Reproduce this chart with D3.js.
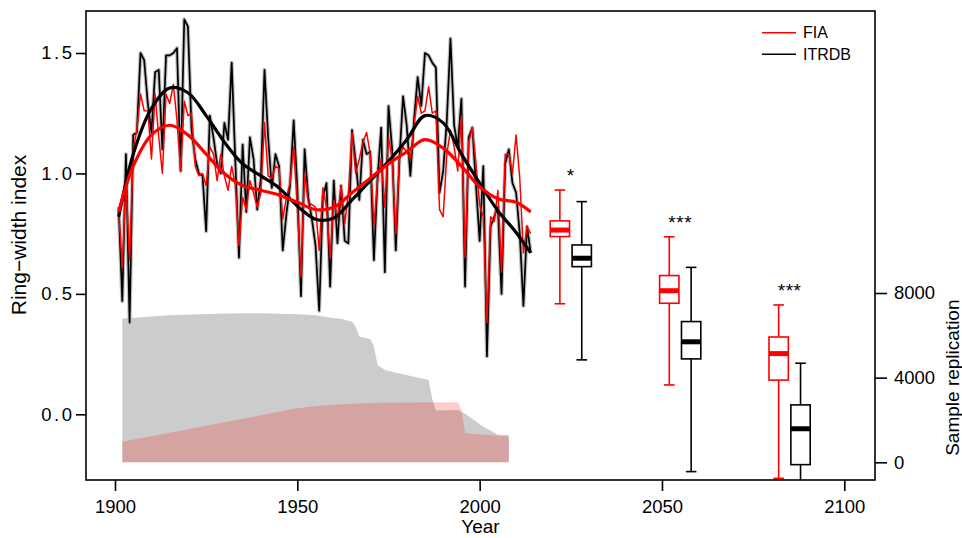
<!DOCTYPE html>
<html>
<head>
<meta charset="utf-8">
<script src="https://cdn.jsdelivr.net/npm/d3@7"></script>
<style>
  body { margin: 0; background: #fff; }
  svg { display: block; font-family: "Liberation Sans", Arial, Helvetica, sans-serif; }
</style>
</head>
<body>
<div id="chart"></div>
<script>
// annual ring-width index, 1901-2014
const years = d3.range(1901, 2015);
const fia = [
  0.85, 0.61, 0.97, 0.64, 1.10, 1.18, 1.33, 1.26, 1.26, 1.06,
  1.33, 1.15, 1.00, 1.33, 1.29, 1.37, 1.22, 1.01, 1.30, 1.24,
  1.25, 1.03, 0.99, 1.00, 0.95, 1.11, 1.08, 0.97, 1.08, 0.99,
  0.93, 1.03, 0.95, 0.70, 0.90, 0.85, 0.97, 0.92, 0.86, 0.92,
  1.21, 0.99, 0.98, 1.03, 1.02, 0.81, 0.90, 0.96, 1.11, 0.86,
  0.57, 1.00, 0.88, 0.87, 0.86, 0.68, 0.94, 0.86, 0.65, 0.89,
  0.81, 0.95, 0.79, 0.92, 1.17, 1.00, 1.06, 1.13, 1.17, 1.08,
  0.78, 0.97, 1.06, 0.86, 1.15, 1.06, 0.75, 1.06, 1.11, 1.09,
  1.06, 1.20, 1.32, 1.25, 1.26, 1.36, 1.25, 1.26, 0.85, 0.82,
  1.08, 1.18, 1.11, 1.01, 1.24, 0.65, 1.13, 1.19, 1.04, 0.87,
  0.82, 0.38, 0.82, 0.80, 0.93, 0.59, 1.08, 1.08, 1.00, 1.16,
  0.98, 0.67, 0.78, 0.75
];
const itrdb = [
  0.86, 0.47, 1.08, 0.38, 1.16, 1.17, 1.50, 1.47, 1.29, 1.17,
  1.42, 1.43, 1.10, 1.49, 1.49, 1.50, 1.52, 1.01, 1.64, 1.61,
  1.18, 1.06, 1.00, 0.99, 0.76, 1.24, 1.15, 1.04, 1.00, 1.21,
  1.14, 1.46, 1.05, 0.65, 1.12, 0.84, 1.15, 1.06, 0.85, 0.98,
  1.43, 1.15, 0.94, 1.08, 1.03, 0.68, 0.83, 0.95, 1.22, 0.94,
  0.49, 1.10, 0.90, 0.81, 0.70, 0.43, 0.90, 0.96, 0.53, 0.97,
  0.71, 0.95, 0.72, 0.71, 1.18, 1.05, 0.89, 1.14, 1.08, 1.09,
  0.64, 0.98, 1.19, 0.59, 1.28, 1.10, 0.68, 1.06, 1.32, 1.20,
  0.99, 1.22, 1.40, 1.28, 1.50, 1.49, 1.46, 1.44, 0.92, 1.01,
  1.22, 1.56, 1.20, 1.11, 1.31, 0.53, 1.15, 1.19, 0.95, 0.72,
  1.03, 0.24, 0.78, 0.82, 0.86, 0.50, 1.04, 1.10, 0.96, 0.92,
  0.75, 0.45, 0.78, 0.67
];

// smoothed curves (spline)
const smoothYears = [1901, 1905, 1910, 1915, 1920, 1925, 1930, 1935, 1940, 1945, 1950, 1955,
  1960, 1965, 1970, 1975, 1980, 1985, 1990, 1995, 2000, 2005, 2010, 2014];
const fiaSmooth = [0.84, 1.03, 1.16, 1.20, 1.16, 1.08, 1.00, 0.95, 0.93, 0.91, 0.88, 0.85,
  0.86, 0.92, 0.98, 1.04, 1.09, 1.14, 1.105, 1.03, 0.945, 0.895, 0.88, 0.84];
const itrdbSmooth = [0.82, 1.08, 1.27, 1.355, 1.335, 1.24, 1.13, 1.04, 0.99, 0.94, 0.865, 0.81,
  0.815, 0.89, 0.97, 1.05, 1.14, 1.24, 1.21, 1.08, 0.96, 0.845, 0.755, 0.67];

// sample replication (right axis)
const repItrdbYears = [1902, 1915, 1930, 1940, 1950, 1955, 1959, 1962, 1965, 1966, 1967, 1970, 1971,
  1972, 1974, 1978, 1983, 1986, 1987, 1988, 1994, 1996, 2001, 2003, 2005, 2008];
const repItrdb = [6800, 6950, 7030, 7040, 7000, 6950, 6830, 6780, 6640, 6400, 5950, 5820, 5500,
  4600, 4360, 4200, 4010, 3890, 3000, 2450, 2470, 2300, 1680, 1500, 1300, 1290];
const repFiaYears = [1902, 1950, 1955, 1960, 1970, 1980, 1994, 1995, 1996, 2000, 2008];
const repFia = [970, 2550, 2650, 2720, 2800, 2830, 2834, 2470, 1370, 1320, 1210];

// projected boxplots: [lower whisker, q1, median, q3, upper whisker]
const boxPeriods = [2025, 2055, 2085];
const boxFia = [
  [0.459, 0.738, 0.765, 0.803, 0.931],
  [0.122, 0.461, 0.513, 0.576, 0.737],
  [-0.266, 0.142, 0.252, 0.321, 0.454]
];
const boxItrdb = [
  [0.226, 0.613, 0.648, 0.703, 0.883],
  [-0.238, 0.230, 0.301, 0.385, 0.610],
  [-0.40, -0.209, -0.060, 0.039, 0.212]
];
const signif = ["*", "***", "***"];

const xTicks = [1900, 1950, 2000, 2050, 2100];
const yTicks = [0, 0.5, 1.0, 1.5];
const repTicks = [0, 4000, 8000];

const W = 962, H = 538;
const plot = { left: 86, top: 11, right: 875, bottom: 480 };
const font = "'Liberation Sans', Arial, Helvetica, sans-serif";

const svg = d3.select("#chart").append("svg")
  .attr("width", W)
  .attr("height", H);

const x = d3.scaleLinear().domain([1900, 2100]).range([115, 844.3]);
const y = d3.scaleLinear().domain([0, 1.5]).range([414.3, 53]);
const yRep = d3.scaleLinear().domain([0, 8000]).range([462.3, 293]);

svg.append("clipPath").attr("id", "clip")
  .append("rect")
  .attr("x", plot.left).attr("y", plot.top)
  .attr("width", plot.right - plot.left)
  .attr("height", plot.bottom - plot.top);

const g = svg.append("g").attr("clip-path", "url(#clip)");

// replication areas
const repArea = d3.area()
  .x(d => x(d[0]))
  .y0(yRep(0))
  .y1(d => yRep(d[1]));

g.append("path")
  .attr("d", repArea(d3.zip(repItrdbYears, repItrdb)))
  .attr("fill", "#cccccc");

g.append("path")
  .attr("d", repArea(d3.zip(repFiaYears, repFia)))
  .attr("fill", "rgba(255,0,0,0.2)");

// annual series
const line = d3.line()
  .x(d => x(d[0]))
  .y(d => y(d[1]));

g.append("path")
  .attr("d", line(d3.zip(years, itrdb)))
  .attr("fill", "none")
  .attr("stroke", "#c0c0c0")
  .attr("stroke-width", 4)
  .attr("stroke-linejoin", "round");

g.append("path")
  .attr("d", line(d3.zip(years, itrdb)))
  .attr("fill", "none")
  .attr("stroke", "black")
  .attr("stroke-width", 1.7)
  .attr("stroke-linejoin", "round");

g.append("path")
  .attr("d", line(d3.zip(years, fia)))
  .attr("fill", "none")
  .attr("stroke", "#ff0000")
  .attr("stroke-width", 1.5)
  .attr("stroke-linejoin", "round");

// smoothed curves
const smooth = d3.line()
  .x(d => x(d[0]))
  .y(d => y(d[1]))
  .curve(d3.curveCatmullRom.alpha(0.5));

g.append("path")
  .attr("d", smooth(d3.zip(smoothYears, itrdbSmooth)))
  .attr("fill", "none")
  .attr("stroke", "black")
  .attr("stroke-width", 3.2);

g.append("path")
  .attr("d", smooth(d3.zip(smoothYears, fiaSmooth)))
  .attr("fill", "none")
  .attr("stroke", "#ff0000")
  .attr("stroke-width", 3.2);

// boxplots
const boxHalf = 2.65;  // years
const capHalf = 1.45;
function drawBox(center, s, color) {
  const bg = g.append("g")
    .attr("stroke", color)
    .attr("fill", "none")
    .attr("stroke-width", 1.6);
  bg.append("line")
    .attr("x1", x(center)).attr("x2", x(center))
    .attr("y1", y(s[0])).attr("y2", y(s[1]));
  bg.append("line")
    .attr("x1", x(center)).attr("x2", x(center))
    .attr("y1", y(s[3])).attr("y2", y(s[4]));
  bg.append("line")
    .attr("x1", x(center - capHalf)).attr("x2", x(center + capHalf))
    .attr("y1", y(s[0])).attr("y2", y(s[0]));
  bg.append("line")
    .attr("x1", x(center - capHalf)).attr("x2", x(center + capHalf))
    .attr("y1", y(s[4])).attr("y2", y(s[4]));
  bg.append("rect")
    .attr("x", x(center - boxHalf))
    .attr("y", y(s[3]))
    .attr("width", x(center + boxHalf) - x(center - boxHalf))
    .attr("height", y(s[1]) - y(s[3]))
    .attr("fill", "white");
  bg.append("line")
    .attr("x1", x(center - boxHalf)).attr("x2", x(center + boxHalf))
    .attr("y1", y(s[2])).attr("y2", y(s[2]))
    .attr("stroke-width", 5);
}

boxPeriods.forEach((p, i) => {
  drawBox(p - 3, boxFia[i], "#ff0000");
  drawBox(p + 3, boxItrdb[i], "black");
  const top = Math.max(boxFia[i][4], boxItrdb[i][4]);
  svg.append("text")
    .attr("x", x(p))
    .attr("y", y(top) - 8)
    .attr("text-anchor", "middle")
    .attr("font-size", 19)
    .attr("letter-spacing", 0.5)
    .text(signif[i]);
});

// frame
svg.append("rect")
  .attr("x", plot.left).attr("y", plot.top)
  .attr("width", plot.right - plot.left)
  .attr("height", plot.bottom - plot.top)
  .attr("fill", "none")
  .attr("stroke", "black")
  .attr("stroke-width", 1.6);

// axes
const xAxis = svg.append("g")
  .attr("transform", `translate(0,${plot.bottom})`)
  .call(d3.axisBottom(x).tickValues(xTicks).tickFormat(d3.format("d")).tickSize(11).tickPadding(9));

const yAxis = svg.append("g")
  .attr("transform", `translate(${plot.left},0)`)
  .call(d3.axisLeft(y).tickValues(yTicks).tickFormat(d3.format(".1f")).tickSize(10).tickPadding(1.5));

const rAxis = svg.append("g")
  .attr("transform", `translate(${plot.right},0)`)
  .call(d3.axisRight(yRep).tickValues(repTicks).tickFormat(d3.format("d")).tickSize(12).tickPadding(7));

[xAxis, yAxis, rAxis].forEach(a => {
  a.select(".domain").remove();
  a.selectAll("line").attr("stroke", "black").attr("stroke-width", 1.6);
  a.selectAll("text")
    .attr("fill", "black")
    .style("font-family", font)
    .style("font-size", "18.5px");
});
// the y tick labels are set a little wider in the original
yAxis.selectAll("text").attr("letter-spacing", 2.5);

// axis titles
svg.append("text")
  .attr("x", (plot.left + plot.right) / 2)
  .attr("y", 533)
  .attr("text-anchor", "middle")
  .attr("font-size", 19)
  .text("Year");

svg.append("text")
  .attr("transform", "translate(26,235) rotate(-90)")
  .attr("text-anchor", "middle")
  .attr("font-size", 21)
  .text("Ring\u2212width index");

svg.append("text")
  .attr("transform", `translate(959,${yRep(4000)}) rotate(-90)`)
  .attr("text-anchor", "middle")
  .attr("font-size", 19)
  .text("Sample replication");

// legend
const legend = [["FIA", "#ff0000"], ["ITRDB", "black"]];
legend.forEach((d, i) => {
  const ly = 32.7 + i * 21.6;
  svg.append("line")
    .attr("x1", 762).attr("x2", 796)
    .attr("y1", ly).attr("y2", ly)
    .attr("stroke", d[1])
    .attr("stroke-width", 1.6);
  svg.append("text")
    .attr("x", 803)
    .attr("y", ly)
    .attr("dy", "0.35em")
    .attr("font-size", 16)
    .text(d[0]);
});
</script>
</body>
</html>
